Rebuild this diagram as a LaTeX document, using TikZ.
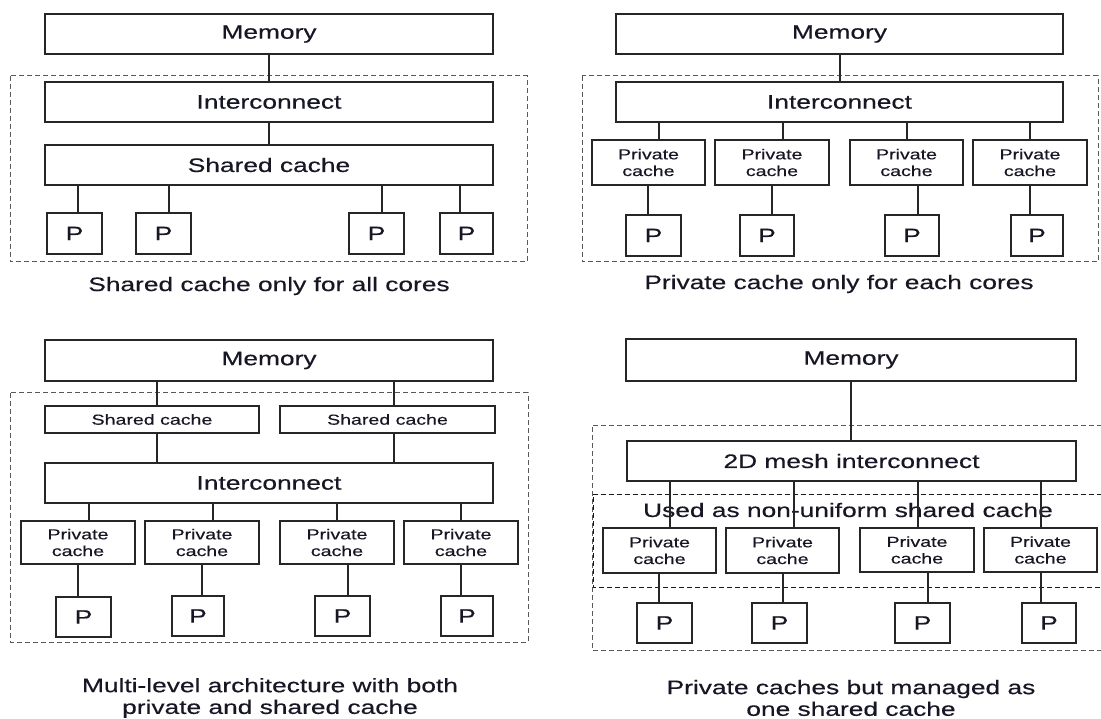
\documentclass[tikz,border=0pt]{standalone}
\usepackage{fontspec}
\setmainfont{Liberation Sans}[FakeStretch=1.35,FakeBold=0.4]
\definecolor{txt}{RGB}{22,22,36}
\newcommand\bx[7][]{\node[box,#1,minimum width={#5-#3},minimum height={#6-#4}] (#2) at ({(#3+#5)/2},{(#4+#6)/2}) {#7};}
\newcommand\wire[3]{\path (#3,0) coordinate (wx); \draw[wire] (#1.south -| wx) -- (#2.north -| wx);}
\tikzset{
  box/.style={draw=black!85, line width=1.6pt, inner sep=0pt, align=center, text=txt},
  big/.style={font=\fontsize{19.5}{21.7}\selectfont},
  small/.style={font=\fontsize{14.5}{16.7}\selectfont},
  wire/.style={draw=black!85, line width=1.6pt},
  region/.style={draw=black!65, line width=1pt, dash pattern=on 5pt off 3pt},
  innerregion/.style={draw=black!90, line width=1pt, dash pattern=on 5pt off 3pt},
  caption/.style={text=txt, align=center, inner sep=0pt, font=\fontsize{19.5}{21.7}\selectfont}
}
\begin{document}
\begin{tikzpicture}[x=1pt,y=-1pt]
\useasboundingbox (0,0) rectangle (1101,719);
\clip (0,0) rectangle (1101,719);

% ---------- regions ----------
\draw[region] (10,76) rectangle (527,262);
\draw[region] (582,76) rectangle (1098,262);
\draw[region] (10,393) rectangle (528,642);
\draw[region] (1110,425) -- (592,425) -- (592,650) -- (1110,650);
\draw[innerregion] (1110,494) -- (593,494) -- (593,587) -- (1110,587);

% ---------- panel 1 ----------
\bx[big]{mem1}{45}{14}{493}{54}{Memory}
\bx[big]{int1}{45}{82}{493}{122}{Interconnect}
\bx[big]{sc1}{45}{145}{493}{185}{Shared cache}
\bx[big]{p11}{47}{213}{102}{254}{P}
\bx[big]{p12}{136}{213}{191}{254}{P}
\bx[big]{p13}{349}{213}{404}{254}{P}
\bx[big]{p14}{440}{213}{493}{254}{P}
\wire{mem1}{int1}{269}
\wire{int1}{sc1}{269}
\wire{sc1}{p11}{78}
\wire{sc1}{p12}{169}
\wire{sc1}{p13}{382}
\wire{sc1}{p14}{460}
\node[caption] (cap1) at (269,286) {Shared cache only for all cores};

% ---------- panel 2 ----------
\bx[big]{mem2}{616}{14}{1063}{54}{Memory}
\bx[big]{int2}{616}{82}{1063}{122}{Interconnect}
\bx[small]{pc21}{592}{140}{705}{185}{Private\\cache}
\bx[small]{pc22}{715}{140}{829}{185}{Private\\cache}
\bx[small]{pc23}{850}{140}{963}{185}{Private\\cache}
\bx[small]{pc24}{973}{140}{1087}{185}{Private\\cache}
\bx[big]{p21}{626}{215}{681}{256}{P}
\bx[big]{p22}{740}{215}{794}{256}{P}
\bx[big]{p23}{885}{215}{939}{256}{P}
\bx[big]{p24}{1011}{215}{1063}{256}{P}
\wire{mem2}{int2}{840}
\wire{int2}{pc21}{659}
\wire{int2}{pc22}{783}
\wire{int2}{pc23}{907}
\wire{int2}{pc24}{1030}
\wire{pc21}{p21}{648}
\wire{pc22}{p22}{772}
\wire{pc23}{p23}{918}
\wire{pc24}{p24}{1030}
\node[caption] (cap2) at (839,284) {Private cache only for each cores};

% ---------- panel 3 ----------
\bx[big]{mem3}{45}{340}{493}{381}{Memory}
\bx[small]{sc31}{45}{406}{259}{433}{Shared cache}
\bx[small]{sc32}{280}{406}{495}{433}{Shared cache}
\bx[big]{int3}{45}{463}{493}{503}{Interconnect}
\bx[small]{pc31}{21}{521}{135}{564}{Private\\cache}
\bx[small]{pc32}{145}{521}{259}{564}{Private\\cache}
\bx[small]{pc33}{280}{521}{394}{564}{Private\\cache}
\bx[small]{pc34}{404}{521}{518}{564}{Private\\cache}
\bx[big]{p31}{56}{597}{111}{637}{P}
\bx[big]{p32}{172}{596}{224}{636}{P}
\bx[big]{p33}{315}{596}{370}{636}{P}
\bx[big]{p34}{441}{596}{493}{636}{P}
\wire{mem3}{sc31}{157}
\wire{mem3}{sc32}{394}
\wire{sc31}{int3}{157}
\wire{sc32}{int3}{394}
\wire{int3}{pc31}{89}
\wire{int3}{pc32}{213}
\wire{int3}{pc33}{337}
\wire{int3}{pc34}{461}
\wire{pc31}{p31}{78}
\wire{pc32}{p32}{202}
\wire{pc33}{p33}{348}
\wire{pc34}{p34}{461}
\node[caption] (cap3) at (270,698) {Multi-level architecture with both\\private and shared cache};

% ---------- panel 4 ----------
\node[caption] (nusc) at (848,510) {Used as non-uniform shared cache};
\bx[big]{mem4}{626}{339}{1076}{381}{Memory}
\bx[big]{int4}{627}{441}{1076}{481}{2D mesh interconnect}
\bx[small]{pc41}{603}{528}{716}{573}{Private\\cache}
\bx[small]{pc42}{726}{528}{839}{573}{Private\\cache}
\bx[small]{pc43}{860}{528}{974}{572}{Private\\cache}
\bx[small]{pc44}{984}{528}{1097}{572}{Private\\cache}
\bx[big]{p41}{637}{603}{692}{643}{P}
\bx[big]{p42}{752}{603}{807}{643}{P}
\bx[big]{p43}{895}{603}{950}{643}{P}
\bx[big]{p44}{1022}{603}{1076}{643}{P}
\wire{mem4}{int4}{851}
\wire{int4}{pc41}{670}
\wire{int4}{pc42}{794}
\wire{int4}{pc43}{918}
\wire{int4}{pc44}{1041}
\wire{pc41}{p41}{659}
\wire{pc42}{p42}{783}
\wire{pc43}{p43}{928}
\wire{pc44}{p44}{1041}
\node[caption] (cap4) at (851,698) {Private caches but managed as\\one shared cache};
\end{tikzpicture}
\end{document}
